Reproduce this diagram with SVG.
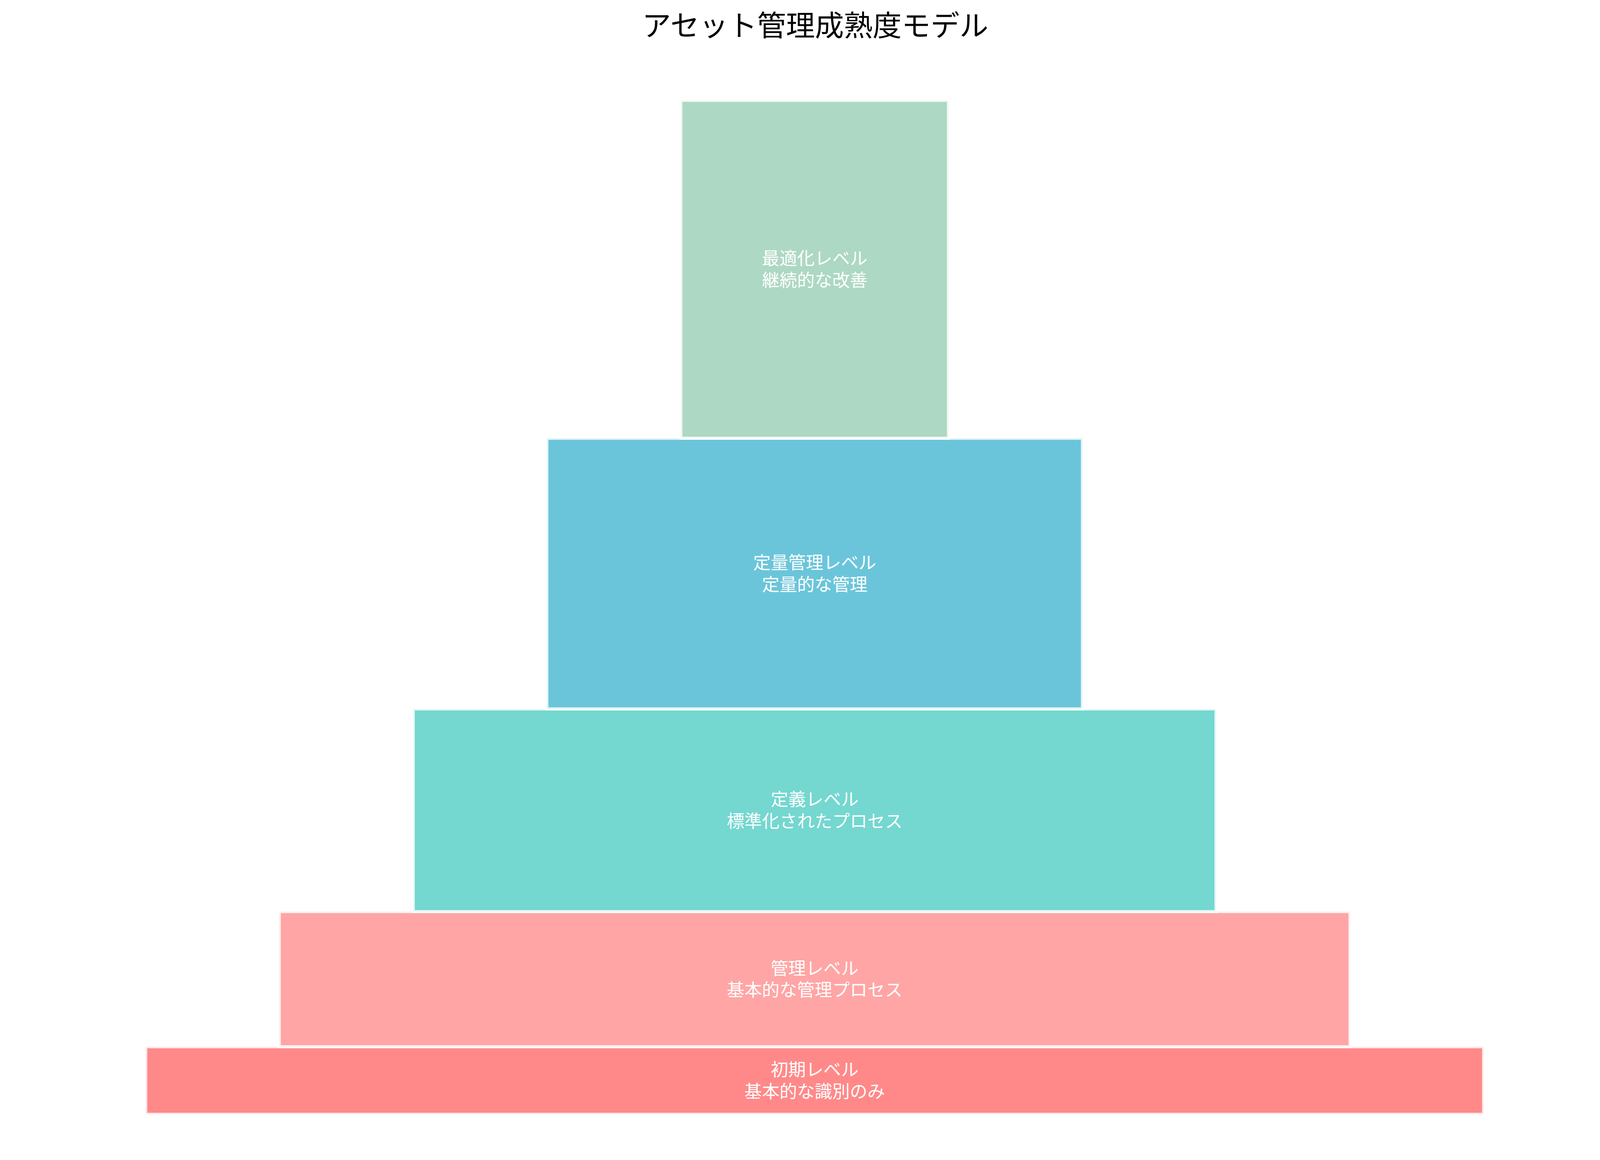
<svg xmlns="http://www.w3.org/2000/svg" width="4170" height="2970" viewBox="0 0 4170 2970">
<style>
.bar{stroke:#ffffff;stroke-opacity:0.8;stroke-width:8}
.lbl{font-family:"Noto Sans CJK JP","Noto Sans",sans-serif;font-size:45px;fill:#ffffff;text-anchor:middle;dominant-baseline:central}
.title{font-family:"Noto Sans CJK JP","Noto Sans",sans-serif;font-size:74px;fill:#000000;text-anchor:middle;dominant-baseline:central}
</style>
<rect x="0" y="0" width="4170" height="2970" fill="#ffffff"/>
<text class="title" x="2087" y="59">アセット管理成熟度モデル</text>
<g id="connectors"></g>
<g id="level1">
<rect class="bar" x="373" y="2680" width="3425" height="173" fill="#FF8989"/>
<text class="lbl"><tspan x="2085.5" y="2735">初期レベル</tspan><tspan x="2085.5" y="2790.5">基本的な識別のみ</tspan></text>
</g>
<g id="level2">
<rect class="bar" x="715" y="2334" width="2741" height="346" fill="#FFA5A5"/>
<text class="lbl"><tspan x="2085.5" y="2475.5">管理レベル</tspan><tspan x="2085.5" y="2531">基本的な管理プロセス</tspan></text>
</g>
<g id="level3">
<rect class="bar" x="1058" y="1815" width="2055" height="519" fill="#74D7D0"/>
<text class="lbl"><tspan x="2085.5" y="2043">定義レベル</tspan><tspan x="2085.5" y="2098.5">標準化されたプロセス</tspan></text>
</g>
<g id="level4">
<rect class="bar" x="1400" y="1122" width="1371" height="693" fill="#6BC5DA"/>
<text class="lbl"><tspan x="2085.5" y="1437">定量管理レベル</tspan><tspan x="2085.5" y="1492.5">定量的な管理</tspan></text>
</g>
<g id="level5">
<rect class="bar" x="1743" y="257" width="685" height="865" fill="#ADD8C3"/>
<text class="lbl"><tspan x="2085.5" y="658">最適化レベル</tspan><tspan x="2085.5" y="713.5">継続的な改善</tspan></text>
</g>
</svg>
